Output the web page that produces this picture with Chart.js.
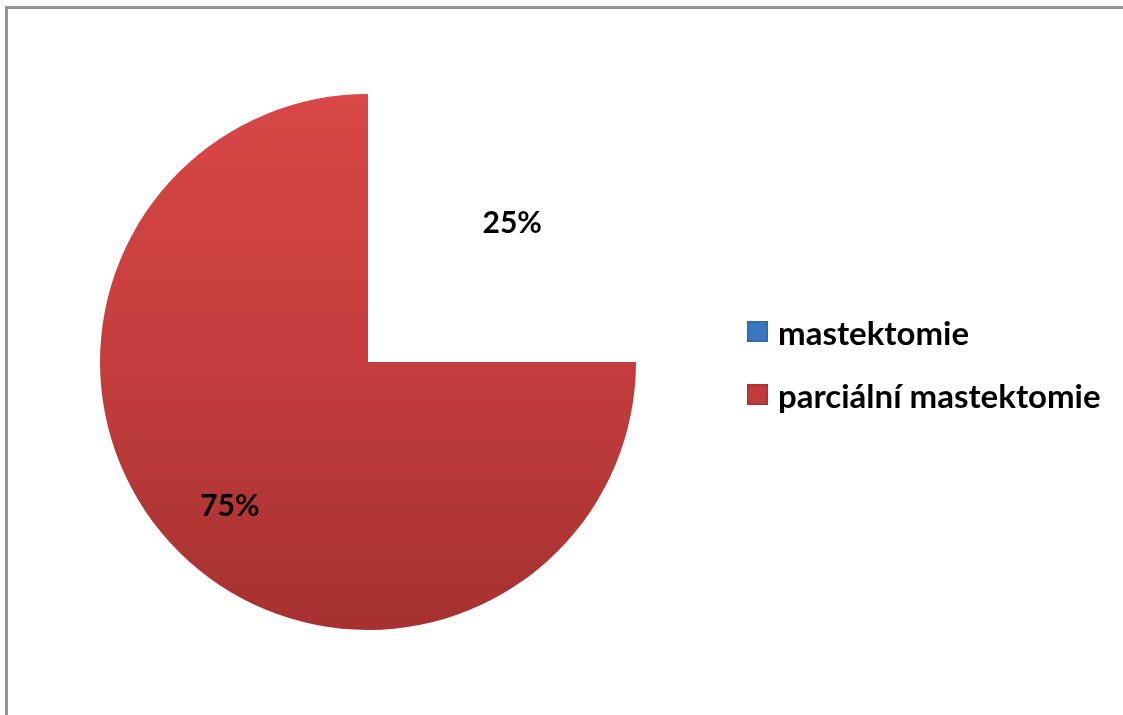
<!DOCTYPE html>
<html lang="cs">
<head>
  <meta charset="UTF-8" />
  <title>mastektomie</title>
  <style>
    html, body { margin: 0; padding: 0; background: #fff; overflow: hidden; width: 1123px; height: 715px; }
    .line { position: absolute; background: #939393; }
    #wrap { position: absolute; left: 0; top: 0; width: 1123px; height: 715px; }
    #legend { position: absolute; left: 747px; top: 300px; font-family: Lato, sans-serif;
              font-weight: bold; font-size: 33px; color: #000; }
    #legend div { height: 63px; display: flex; align-items: center; }
    #legend span.box { display: inline-block; width: 21px; height: 21px; margin-right: 10px;
                       box-shadow: inset 0 0 3px rgba(0,0,0,0.35); }
  </style>
</head>
<body>
<div class="line" style="left:5px; top:6px; width:1118px; height:3px;"></div>
<div class="line" style="left:5px; top:6px; width:3px; height:709px;"></div>
<div id="wrap"><canvas id="chart" width="1123" height="715"></canvas></div>
<div id="legend"></div>

<script src="https://cdn.jsdelivr.net/npm/chart.js"></script>
<script>
const labels = ['mastektomie', 'parciální mastektomie'];
const values = [25, 75];
const percentLabels = ['25%', '75%'];
const legendColors = ['#3b76c0', '#c23a3b'];

// legenda jako HTML text
const legend = document.getElementById('legend');
labels.forEach((name, i) => {
  const row = document.createElement('div');
  row.innerHTML = '<span class="box" style="background:' + legendColors[i] + '"></span>' + name;
  legend.appendChild(row);
});

// popisky procent uvnitř výsečí
const percentPlugin = {
  id: 'percentLabels',
  afterDatasetsDraw(chart) {
    const ctx = chart.ctx;
    const meta = chart.getDatasetMeta(0);
    ctx.save();
    ctx.font = 'bold 30px Lato, sans-serif';
    ctx.fillStyle = '#000';
    ctx.textAlign = 'center';
    ctx.textBaseline = 'middle';
    meta.data.forEach((arc, i) => {
      const p = arc.getProps(['x', 'y', 'startAngle', 'endAngle', 'outerRadius']);
      const mid = (p.startAngle + p.endAngle) / 2;
      const r = p.outerRadius * 0.745;
      ctx.fillText(percentLabels[i], p.x + Math.cos(mid) * r + 3, p.y + Math.sin(mid) * r + 3);
    });
    ctx.restore();
  }
};

// výseč "mastektomie" je v předloze prázdná (bílá), druhá má červený přechod
function sliceFill(context) {
  if (context.dataIndex === 0) return 'rgba(255,255,255,0)';
  const area = context.chart.chartArea;
  if (!area) return legendColors[1];
  const g = context.chart.ctx.createLinearGradient(0, area.top, 0, area.bottom);
  g.addColorStop(0, '#d94747');
  g.addColorStop(0.5, '#c33d3c');
  g.addColorStop(1, '#a63131');
  return g;
}

new Chart(document.getElementById('chart'), {
  type: 'pie',
  data: {
    labels: labels,
    datasets: [{
      data: values,
      backgroundColor: sliceFill,
      borderWidth: 0,
      hoverOffset: 0
    }]
  },
  options: {
    responsive: false,
    animation: false,
    events: [],
    layout: { padding: { left: 100, top: 93, right: 487, bottom: 84 } },
    plugins: { legend: { display: false }, tooltip: { enabled: false } }
  },
  plugins: [percentPlugin]
});
</script>
</body>
</html>
